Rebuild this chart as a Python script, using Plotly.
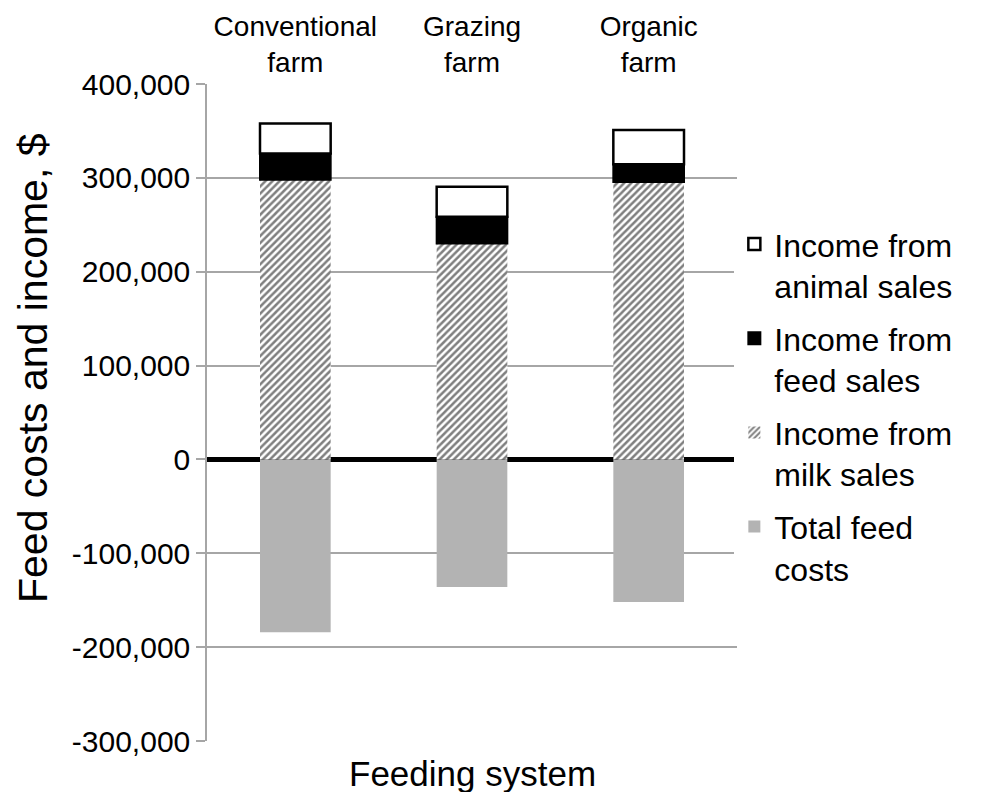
import plotly.graph_objects as go

# Farm categories (top axis labels)
farms = ["Conventional<br>farm", "Grazing<br>farm", "Organic<br>farm"]

# Stacked income components, $
milk_sales = [298000, 230000, 295500]
feed_sales = [28000, 28500, 19000]
animal_sales = [32000, 32000, 36500]

# Feed costs, shown as negative bars
feed_costs = [-184000, -136000, -152000]

# Y axis ticks
y_ticks = [-300000, -200000, -100000, 0, 100000, 200000, 300000, 400000]
y_ticktext = ["-300,000", "-200,000", "-100,000", "0", "100,000", "200,000", "300,000", "400,000"]

FONT = "Arial, Liberation Sans, sans-serif"

fig = go.Figure()

fig.add_trace(go.Bar(
    x=farms, y=feed_costs, name="Total feed<br>costs",
    legendgroup="d", legendrank=4,
    marker=dict(color="#b3b3b3", line=dict(width=0)),
))
fig.add_trace(go.Bar(
    x=farms, y=milk_sales, name="Income from<br>milk sales",
    legendgroup="c", legendrank=3,
    marker=dict(color="white", line=dict(width=0),
                pattern=dict(shape="/", fgcolor="black", bgcolor="white",
                             size=5, solidity=0.5)),
))
fig.add_trace(go.Bar(
    x=farms, y=feed_sales, name="Income from<br>feed sales",
    legendgroup="b", legendrank=2,
    marker=dict(color="black", line=dict(color="black", width=2)),
))
fig.add_trace(go.Bar(
    x=farms, y=animal_sales, name="Income from<br>animal sales",
    legendgroup="a", legendrank=1,
    marker=dict(color="white", line=dict(color="black", width=2.5)),
))

# page body has an 8px margin, so the figure is a bit smaller than the window
fig.update_layout(
    width=979, height=784,
    barmode="relative", bargap=0.6,
    plot_bgcolor="white", paper_bgcolor="white",
    font=dict(family=FONT, color="black"),
    margin=dict(l=199, r=250, t=76, b=51, autoexpand=False),
    legend=dict(
        x=0.995, y=0.798, xanchor="left", yanchor="top",
        traceorder="grouped", tracegroupgap=8, valign="top",
        font=dict(size=32, family=FONT),
        itemwidth=30,
    ),
    xaxis=dict(
        side="top", showline=False, showgrid=False, ticks="",
        tickfont=dict(size=28, family=FONT), automargin=False,
        ticklabelstandoff=5,
    ),
    yaxis=dict(
        range=[-300000, 400000], automargin=False,
        tickvals=y_ticks, ticktext=y_ticktext,
        tickfont=dict(size=30, family=FONT),
        showgrid=True, gridcolor="#a6a6a6", gridwidth=1.5,
        showline=True, linecolor="#a6a6a6", linewidth=1.5,
        ticks="outside", ticklen=9, tickcolor="#a6a6a6", tickwidth=1.5,
        zeroline=True, zerolinecolor="black", zerolinewidth=5,
    ),
    annotations=[
        dict(text="Feed costs and income, $", textangle=-90,
             xref="paper", yref="paper", x=-0.328, y=0.568,
             xanchor="center", yanchor="middle", showarrow=False,
             font=dict(size=41, family=FONT)),
        dict(text="Feeding system",
             xref="paper", yref="paper", x=0.5, y=-0.049,
             xanchor="center", yanchor="middle", showarrow=False,
             font=dict(size=35, family=FONT)),
    ],
)

fig.write_html("out.html")
